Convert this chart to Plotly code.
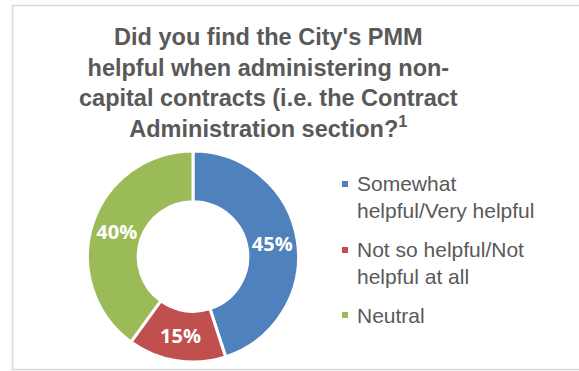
import plotly.graph_objects as go

# Survey responses
labels = ["Somewhat<br>helpful/Very helpful", "Not so helpful/Not<br>helpful at all", "Neutral"]
values = [45, 15, 40]
colors = ["#4F81BD", "#C0504D", "#9BBB59"]

W, H = 579, 371
TEXT_GREY = "#595959"

title_text = ("<b>Did you find the City's PMM<br>helpful when administering non-<br>"
              "capital contracts (i.e. the Contract<br>Administration section?<sup>1</sup></b>")

fig = go.Figure(go.Pie(
    labels=labels,
    values=values,
    hole=0.52,
    sort=False,
    direction="clockwise",
    rotation=0,
    marker=dict(colors=colors, line=dict(color="white", width=3)),
    texttemplate="<b>%{percent:.0%}</b>",
    textposition="inside",
    insidetextorientation="horizontal",
    textfont=dict(family="Open Sans, Liberation Sans, Arial", size=20, color="white"),
    domain=dict(x=[87 / W, 299 / W], y=[(H - 362) / H, (H - 151) / H]),
    hoverinfo="label+percent",
    showlegend=False,
))

# Legend drawn beside the donut: a small square swatch and wrapped label per slice
legend_rows = [196.5, 262.5, 315]
annotations = [dict(
    text=title_text, x=268 / W, y=1 - 21.5 / H, xref="paper", yref="paper",
    xanchor="center", yanchor="top", showarrow=False, align="center",
    font=dict(family="Liberation Sans, Arial", size=23.5, color=TEXT_GREY),
)]
shapes = [dict(
    type="rect", xref="paper", yref="paper",
    x0=12.5 / W, x1=1.02, y0=1 - 369.5 / H, y1=1 - 5.5 / H,
    line=dict(color="#D9D9D9", width=1.5), fillcolor="rgba(0,0,0,0)", layer="below",
)]
for lab, col, yc in zip(labels, colors, legend_rows):
    n_lines = lab.count("<br>") + 1
    first_line_y = yc - (n_lines - 1) * 12.5
    annotations.append(dict(
        text=lab, x=355 / W, y=1 - yc / H, xref="paper", yref="paper",
        xanchor="left", yanchor="middle", showarrow=False, align="left",
        font=dict(family="Liberation Sans, Arial", size=21, color=TEXT_GREY),
    ))
    shapes.append(dict(
        type="rect", xref="paper", yref="paper",
        x0=342 / W, x1=348 / W, y0=1 - (first_line_y + 3) / H, y1=1 - (first_line_y - 3) / H,
        line=dict(width=0), fillcolor=col,
    ))

fig.update_layout(
    width=W, height=H,
    margin=dict(l=0, r=0, t=0, b=0),
    paper_bgcolor="white",
    plot_bgcolor="white",
    annotations=annotations,
    shapes=shapes,
)

fig.write_html("out.html")
